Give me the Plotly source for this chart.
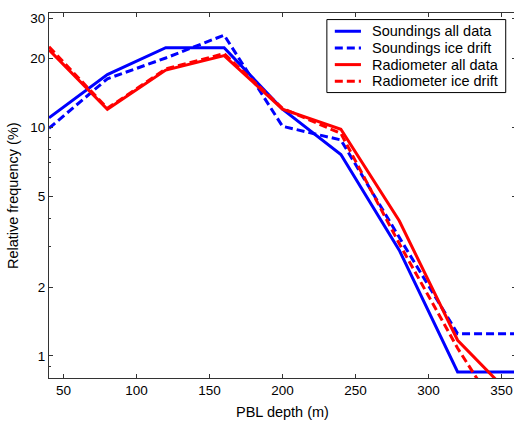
"""PBL depth relative frequency: soundings vs radiometer."""
import plotly.graph_objects as go

depth = [40, 80, 120, 160, 200, 240, 280, 320, 360]

soundings_all = [11.0, 17.0, 22.3, 22.3, 12.0, 7.6, 2.9, 0.85, 0.85]
soundings_ice = [9.9, 16.3, 20.1, 25.3, 10.1, 8.8, 3.3, 1.25, 1.25]
radiometer_all = [21.8, 12.0, 17.8, 20.6, 12.0, 9.8, 3.9, 1.17, 0.64]
radiometer_ice = [22.5, 12.1, 18.0, 21.0, 12.1, 9.4, 3.1, 1.08, 0.43]

names = ["Soundings all data", "Soundings ice drift",
         "Radiometer all data", "Radiometer ice drift"]

y_ticks = [1, 2, 5, 10, 20, 30]
x_ticks = [50, 100, 150, 200, 250, 300, 350]

FONT = "Liberation Sans, Arial, sans-serif"
DASH = "8px,4px"

series = [
    (soundings_all, "#0000ff", "solid"),
    (soundings_ice, "#0000ff", DASH),
    (radiometer_all, "#ff0000", "solid"),
    (radiometer_ice, "#ff0000", DASH),
]

fig = go.Figure()
for name, (vals, color, dash) in zip(names, series):
    fig.add_trace(go.Scatter(
        x=depth,
        y=vals,
        mode="lines",
        name=name,
        showlegend=False,
        line=dict(color=color, width=3, dash=dash),
    ))

# matlab-style legend box (plotly's own legend rows are too tall here)
shapes = [dict(type="rect", xref="paper", yref="paper",
               x0=0.595, x1=0.978, y0=0.782, y1=0.982,
               line=dict(color="black", width=1), fillcolor="white",
               layer="above")]
annotations = []
for i, (name, (_, color, dash)) in enumerate(zip(names, series)):
    yy = 0.950 - i * 0.0457
    shapes.append(dict(type="line", xref="paper", yref="paper",
                       x0=0.612, x1=0.668, y0=yy, y1=yy, layer="above",
                       line=dict(color=color, width=3, dash=dash)))
    annotations.append(dict(text=name, xref="paper", yref="paper",
                            x=0.687, y=yy, xanchor="left", yanchor="middle",
                            showarrow=False, font=dict(size=14.5)))

annotations += [
    dict(text="PBL depth (m)", xref="paper", yref="paper",
         x=0.5, y=-0.092, xanchor="center", yanchor="middle",
         showarrow=False, font=dict(size=14.5)),
    dict(text="Relative frequency (%)", xref="paper", yref="paper",
         x=-0.078, y=0.5, xanchor="center", yanchor="middle",
         textangle=-90, showarrow=False, font=dict(size=14.5)),
]

axis_common = dict(
    showline=True,
    linecolor="#333333",
    linewidth=1,
    mirror="ticks",
    ticks="inside",
    ticklen=4,
    tickcolor="#333333",
    showgrid=False,
    zeroline=False,
    automargin=False,
    tickfont=dict(family=FONT, size=13.5, color="black"),
)

# right frame sits just past the window edge, like the original
fig.update_layout(
    width=516,
    height=421,
    margin=dict(l=49, r=0, t=13, b=43),
    paper_bgcolor="white",
    plot_bgcolor="white",
    font=dict(family=FONT, color="black"),
    xaxis=dict(
        range=[40, 360],
        tickvals=x_ticks,
        **axis_common,
    ),
    yaxis=dict(
        type="log",
        range=[-0.0969, 1.5],
        tickvals=y_ticks,
        ticktext=[str(v) for v in y_ticks],
        minor=dict(dtick="D1", ticks="inside", ticklen=2, tickcolor="#333333"),
        **axis_common,
    ),
    shapes=shapes,
    annotations=annotations,
)

# drop the default page margin so the figure starts at the window corner
fig.write_html(
    "out.html",
    config={"displayModeBar": False},
    post_script="document.body.style.margin='0';"
                "document.body.style.overflow='hidden';",
)
